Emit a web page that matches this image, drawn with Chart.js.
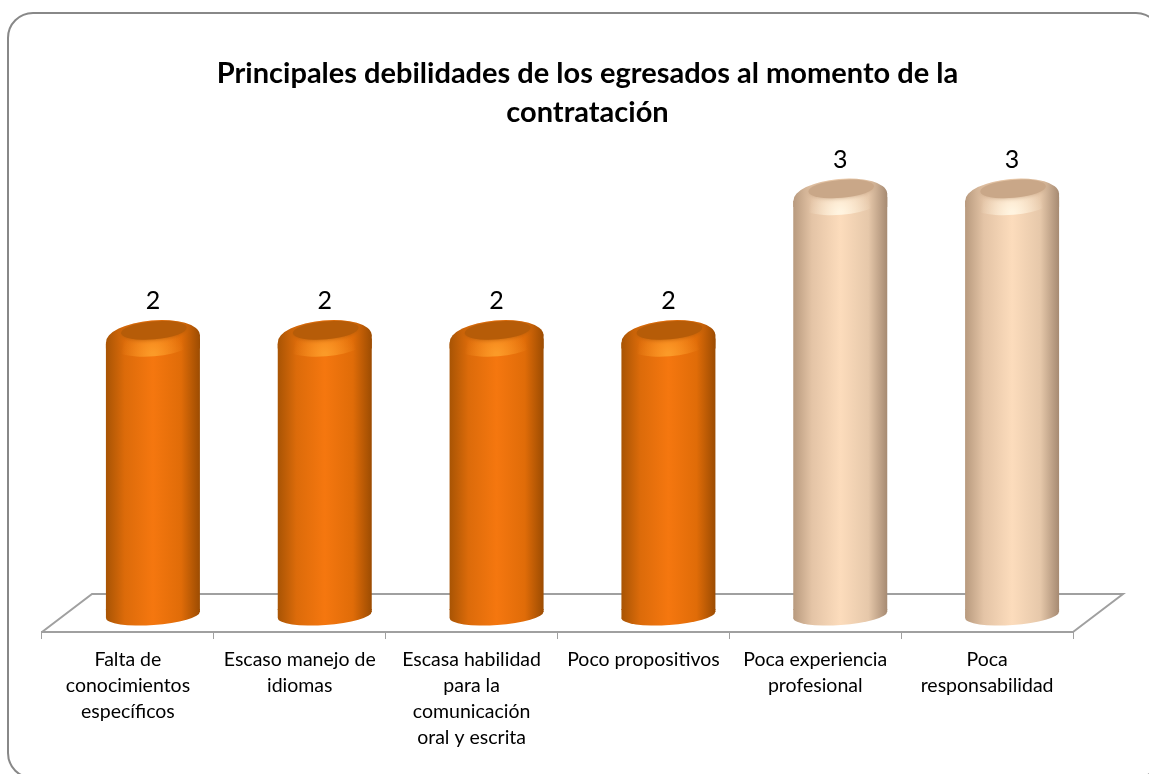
<!DOCTYPE html>
<html lang="es">
<head>
<meta charset="utf-8">
<title>Principales debilidades de los egresados</title>
<script src="https://cdn.jsdelivr.net/npm/chart.js@4"></script>
<style>
  html, body { margin: 0; height: 100%; background: #fff; overflow: hidden; }
  #frame { position: absolute; left: 7px; top: 12px; width: 1155px; height: 767px; box-sizing: border-box;
           border: 2px solid #888; border-radius: 26px; }
  #wrap { position: absolute; left: 0; top: 0; width: 1149px; height: 774px; }
</style>
</head>
<body>
<div id="frame"></div>
<div id="wrap"><canvas id="chart"></canvas></div>
<script>
const titleLines = ["Principales debilidades de los egresados al momento de la", "contratación"];
const categories = [
  ["Falta de", "conocimientos", "específicos"],
  ["Escaso manejo de", "idiomas"],
  ["Escasa habilidad", "para la", "comunicación", "oral y escrita"],
  "Poco propositivos",
  ["Poca experiencia", "profesional"],
  ["Poca", "responsabilidad"]
];
const values = [2, 2, 2, 2, 3, 3];

// tonos del cilindro: borde izq, medio izq, centro, medio der, borde der, tapa, brillo
const orange = ["#a85404", "#dc6b0a", "#f5770f", "#e06c08", "#9c4c02", "#b65c08", "#fb9a28"];
const peach = ["#b89a7e", "#e4c4a6", "#fcdcbc", "#e6c8aa", "#a68a72", "#c9a788", "#fff4e0"];
const tones = [orange, orange, orange, orange, peach, peach];

// desplazamiento de las barras sobre el piso 3D
const depthX = 25;
const depthY = -22;
const barShare = 0.547;
const font = "Lato, 'Open Sans', sans-serif";

function sideGradient(ctx, left, right, t) {
  const g = ctx.createLinearGradient(left, 0, right, 0);
  [0, 0.2, 0.5, 0.8, 1].forEach((stop, i) => g.addColorStop(stop, t[i]));
  return g;
}

const floorPlugin = {
  id: "floor",
  afterLayout(chart) {
    // el titulo va centrado un poco a la derecha del area
    chart.titleBlock.left += 30;
    chart.titleBlock.right += 30;
  },
  beforeDatasetsDraw(chart) {
    const { ctx, chartArea: a } = chart;
    ctx.save();
    ctx.strokeStyle = "#a0a0a0";
    ctx.lineWidth = 2;
    ctx.beginPath();
    ctx.moveTo(a.left, a.bottom);
    ctx.lineTo(a.left + 50, a.bottom - 38);
    ctx.lineTo(a.right + 50, a.bottom - 38);
    ctx.lineTo(a.right, a.bottom);
    ctx.stroke();
    ctx.restore();
    // las barras se dibujan corridas hacia el fondo
    ctx.save();
    ctx.translate(depthX, depthY);
  },
  afterDatasetsDraw(chart) {
    const { ctx } = chart;
    const meta = chart.getDatasetMeta(0);
    meta.data.forEach((bar, i) => {
      const t = tones[i];
      const halfW = bar.width / 2;
      const left = bar.x - halfW;
      const right = bar.x + halfW;
      const side = sideGradient(ctx, left, right, t);
      ctx.fillStyle = side;

      // base redonda, con la union al cuerpo
      const baseY = bar.base + 5;
      ctx.beginPath();
      ctx.moveTo(left, bar.base - 1);
      ctx.lineTo(right, bar.base - 1);
      ctx.lineTo(right, baseY - 3);
      ctx.lineTo(left, baseY + 3);
      ctx.closePath();
      ctx.fill();
      ctx.beginPath();
      ctx.ellipse(bar.x, baseY, halfW, 10, -4 * Math.PI / 180, 0, Math.PI * 2);
      ctx.fill();

      // hombro entre la tapa y el cuerpo
      ctx.beginPath();
      ctx.moveTo(left, bar.y + 4);
      ctx.lineTo(right, bar.y - 4);
      ctx.lineTo(right, bar.y + 10);
      ctx.lineTo(left, bar.y + 10);
      ctx.closePath();
      ctx.fill();

      // tapa superior con brillo al frente
      const tilt = -5 * Math.PI / 180;
      ctx.save();
      ctx.beginPath();
      ctx.ellipse(bar.x, bar.y, halfW, 18, tilt, 0, Math.PI * 2);
      ctx.fill();
      ctx.clip();
      const glow = ctx.createRadialGradient(bar.x, bar.y + 16, 2, bar.x, bar.y + 16, 32);
      glow.addColorStop(0, t[6]);
      glow.addColorStop(1, t[6] + "00");
      ctx.fillStyle = glow;
      ctx.fillRect(left, bar.y - 20, bar.width, 40);
      ctx.fillStyle = t[5];
      ctx.shadowColor = t[5];
      ctx.shadowBlur = 4;
      ctx.beginPath();
      ctx.ellipse(bar.x + 1, bar.y - 8, halfW * 0.7, 9, tilt, 0, Math.PI * 2);
      ctx.fill();
      ctx.restore();
    });
    ctx.restore();

    // valores sobre cada barra
    ctx.save();
    ctx.fillStyle = "#000";
    ctx.font = "25px " + font;
    ctx.textAlign = "center";
    ctx.textBaseline = "middle";
    meta.data.forEach((bar, i) => {
      ctx.fillText(values[i], bar.x + depthX, bar.y + depthY - 37);
    });
    ctx.restore();
  }
};

new Chart(document.getElementById("chart"), {
  type: "bar",
  data: {
    labels: categories,
    datasets: [{
      data: values,
      base: 0.08,
      barPercentage: barShare,
      categoryPercentage: 1,
      borderWidth: 0,
      borderSkipped: false,
      borderRadius: { topLeft: 6, topRight: 0, bottomLeft: 0, bottomRight: 0 },
      backgroundColor: c => {
        const x = c.chart.scales.x;
        const center = x ? x.getPixelForValue(c.dataIndex) : NaN;
        if (!Number.isFinite(center) || c.dataIndex === undefined) return "#f5770f";
        const half = x.width / categories.length * barShare / 2;
        return sideGradient(c.chart.ctx, center - half, center + half, tones[c.dataIndex]);
      }
    }]
  },
  options: {
    responsive: true,
    maintainAspectRatio: false,
    animation: false,
    events: [],
    layout: { padding: { left: 42, right: 76, top: 30, bottom: 15 } },
    plugins: {
      legend: { display: false },
      tooltip: { enabled: false },
      title: {
        display: true,
        text: titleLines,
        color: "#000",
        font: { family: font, size: 29, weight: "bold", lineHeight: 1.345 },
        padding: { top: 24, bottom: 2 }
      }
    },
    scales: {
      x: {
        grid: { drawOnChartArea: false, tickLength: 7, color: "#a0a0a0", offset: true },
        border: { color: "#a0a0a0", width: 2 },
        ticks: { color: "#000", font: { family: font, size: 19.5, lineHeight: 1.333 }, maxRotation: 0, autoSkip: false, padding: 8 }
      },
      y: { display: false, min: 0.08, max: 3.6 }
    }
  },
  plugins: [floorPlugin]
});
</script>
</body>
</html>
